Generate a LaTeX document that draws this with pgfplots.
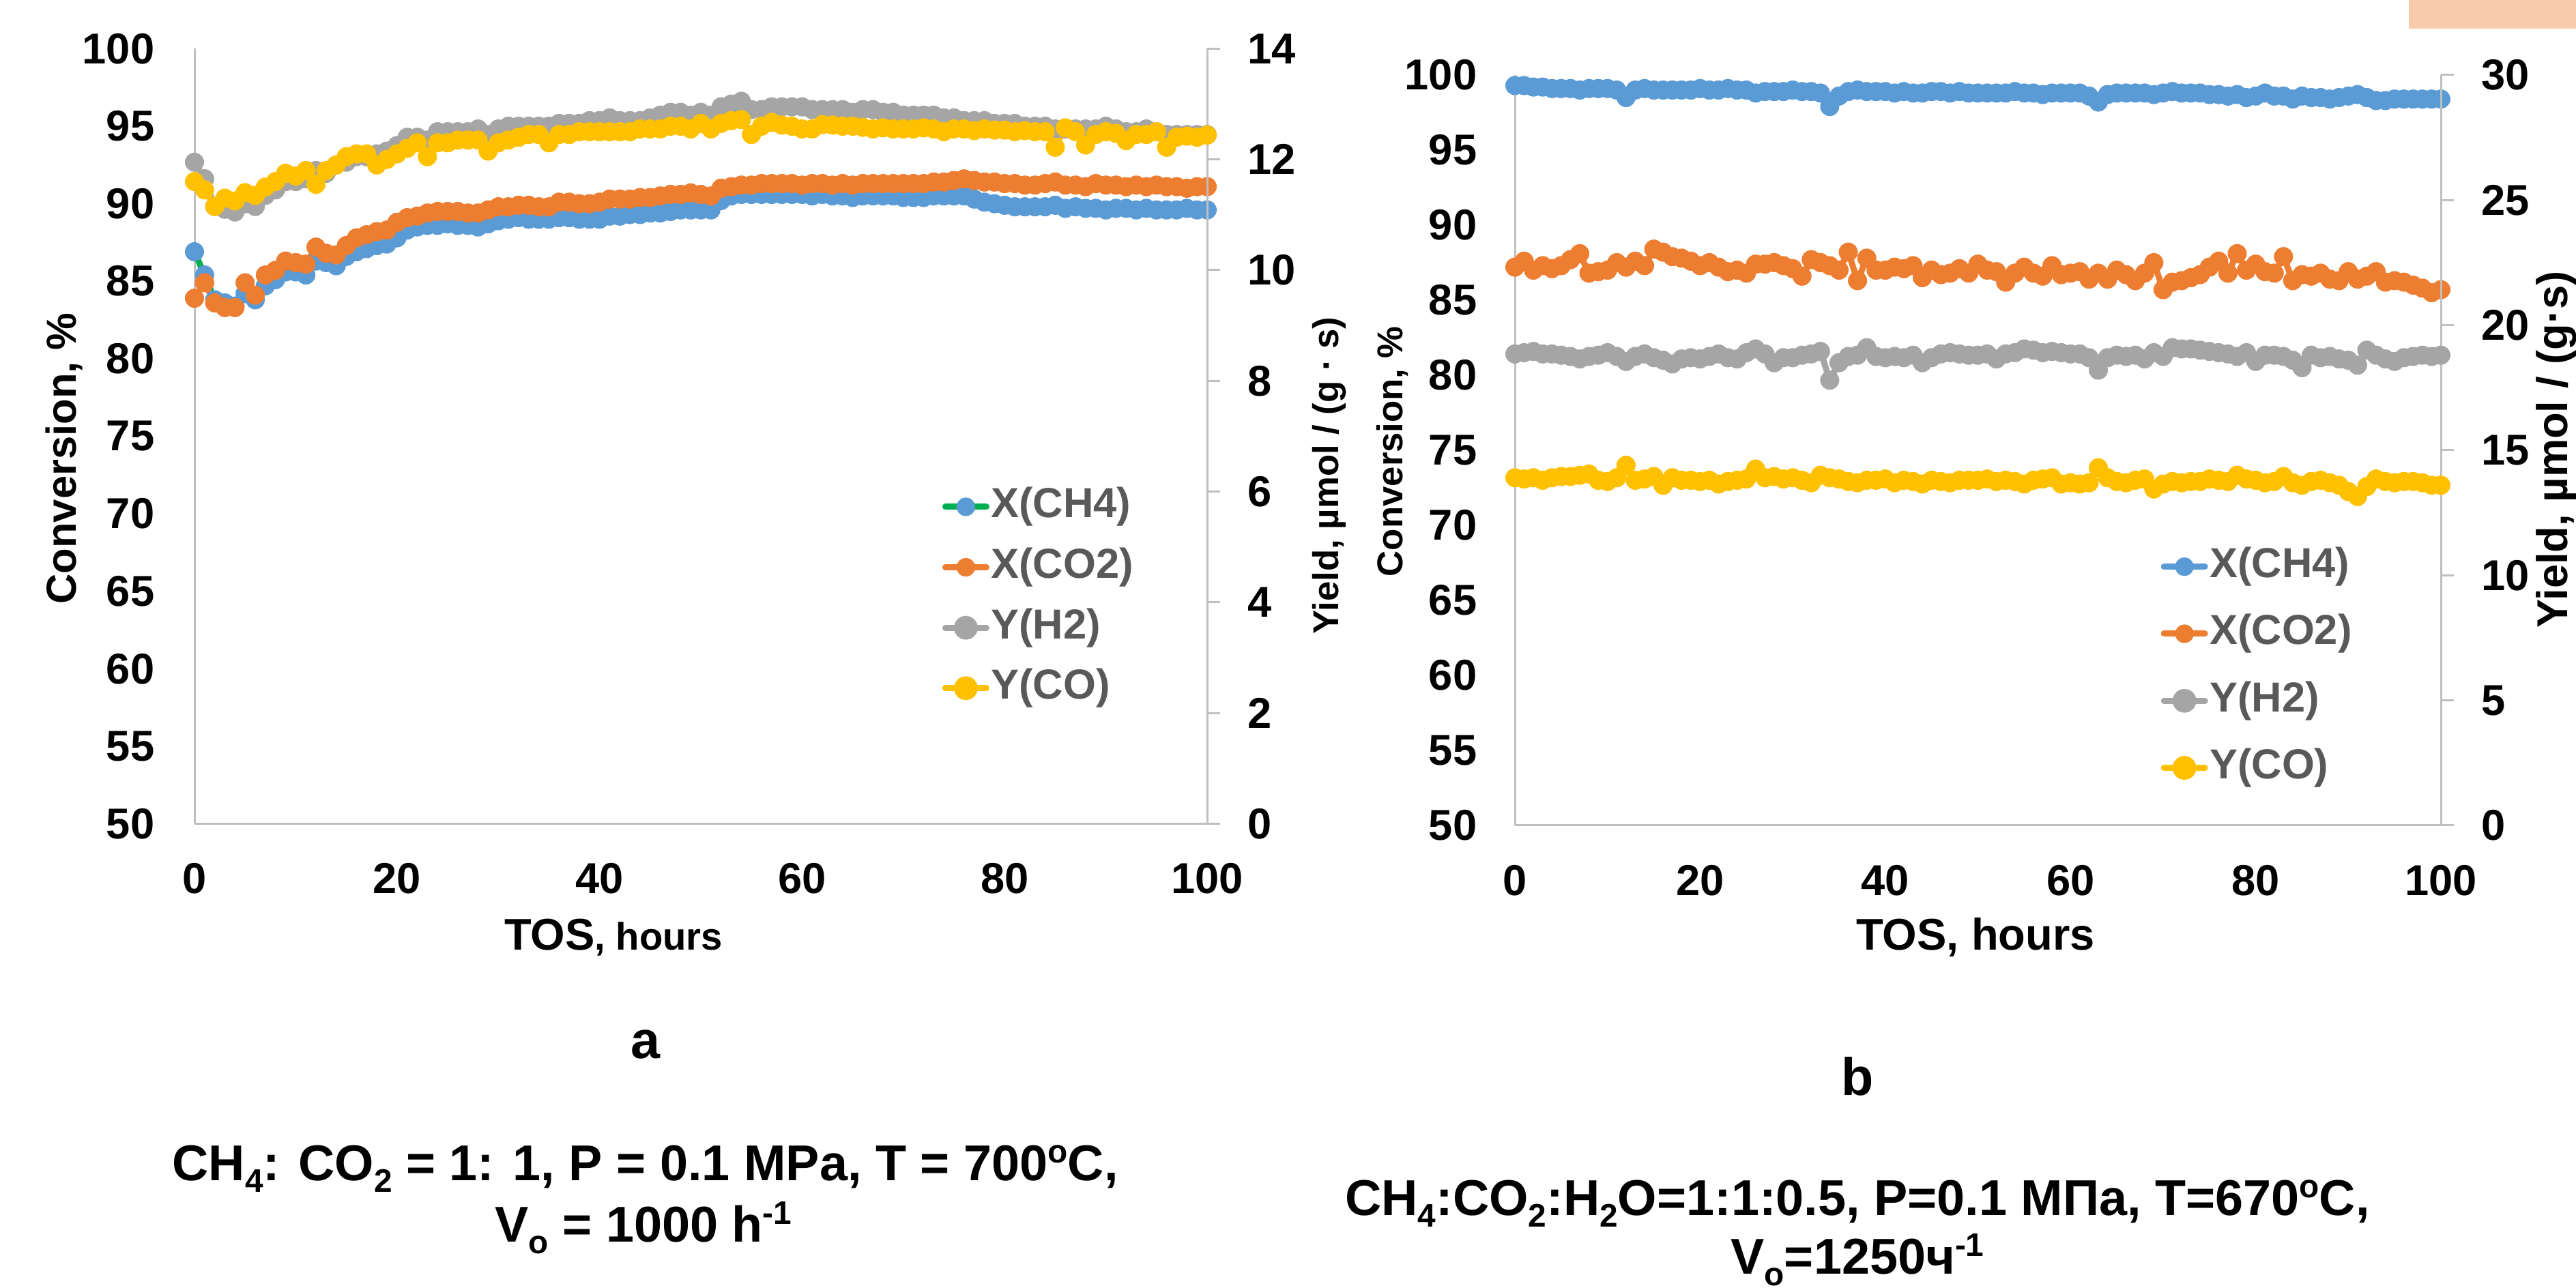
\documentclass[border=0pt]{standalone}
\usepackage{pgfplots}
\usepackage{pgfplotstable}
\usepackage{fontspec}
\setmainfont{Liberation Sans}
\pgfplotsset{compat=1.18}
\definecolor{cblue}{HTML}{5B9BD5}
\definecolor{corange}{HTML}{ED7D31}
\definecolor{cgray}{HTML}{A5A5A5}
\definecolor{cgold}{HTML}{FFC000}
\definecolor{cgreen}{HTML}{00B050}
\definecolor{caxis}{HTML}{BFBFBF}
\definecolor{ctext}{HTML}{595959}
\definecolor{cpeach}{HTML}{F8CBAD}
\newcommand\tlfont{\fontsize{18}{18}\selectfont\bfseries}
\newcommand\sub[1]{\raisebox{-0.23em}{\fontsize{13.6}{13.6}\selectfont #1}}
\newcommand\sups[1]{\raisebox{0.36em}{\fontsize{13.6}{13.6}\selectfont #1}}
\pgfplotsset{
  ser/.style n args={2}{draw=#1, line width=0.9mm, line join=round, mark=*, mark size=1.35mm, mark options={draw=#2, fill=#2, line width=0.1mm}},
  leg/.style n args={2}{legend image code/.code={\draw[#1, line width=0.9mm, line cap=round] (0mm,0mm) -- (6mm,0mm); \fill[#2] (3mm,0mm) circle (1.3mm);}},
  base/.style={scale only axis, anchor=south west, xmin=0, xmax=100, clip=false,
    /pgf/number format/assume math mode=true,
    axis line style={caxis, line width=0.3mm},
    tick label style={font=\tlfont, inner sep=0pt}},
  prim/.style={base, axis x line*=bottom, axis y line*=left, major tick length=0pt, tick style={draw=none},
    xtick={0,20,...,100}, yticklabel style={anchor=east, xshift=-5.8mm}, xticklabel style={anchor=north, yshift=-5.75mm}},
  seco/.style={base, axis x line=none, xtick=\empty, axis y line*=right, tick align=outside, major tick length=1.9mm,
    ytick style={draw=caxis, line width=0.3mm}, yticklabel style={anchor=west, xshift=4.0mm}},
  lg/.style={legend cell align=left, legend style={draw=none, fill=none, inner sep=0pt, outer sep=0pt, anchor=north west,
    font=\fontsize{17.5}{17.5}\selectfont\bfseries, text=ctext, column sep=0.25mm,
    nodes={inner sep=0pt, text height=4.6mm, text depth=1.4mm}}},
}
\pgfplotstableread{
h xch4 xco2 yh2 yco
0 86.9 83.9 11.95 11.6
1 85.4 84.9 11.65 11.45
2 83.8 83.6 11.15 11.15
3 83.6 83.3 11.1 11.3
4 83.4 83.3 11.05 11.25
5 84.2 84.9 11.2 11.4
6 83.8 84.1 11.15 11.35
7 84.7 85.4 11.35 11.5
8 85.1 85.7 11.45 11.6
9 85.6 86.3 11.6 11.75
10 85.6 86.2 11.6 11.7
11 85.4 86.1 11.65 11.8
12 86.3 87.2 11.8 11.55
13 86.2 86.8 11.75 11.8
14 86.0 86.7 11.9 11.9
15 86.6 87.3 11.95 12.05
16 86.9 87.8 12.05 12.1
17 87.1 88.0 12.05 12.1
18 87.3 88.2 12.1 11.9
19 87.4 88.3 12.15 12.0
20 87.8 88.8 12.25 12.1
21 88.3 89.1 12.4 12.2
22 88.5 89.2 12.4 12.3
23 88.6 89.4 12.35 12.05
24 88.6 89.5 12.5 12.3
25 88.7 89.5 12.5 12.3
26 88.6 89.5 12.5 12.35
27 88.6 89.4 12.5 12.35
28 88.5 89.4 12.55 12.35
29 88.7 89.6 12.45 12.15
30 88.9 89.8 12.55 12.3
31 89.0 89.8 12.6 12.35
32 89.1 89.9 12.6 12.4
33 89.0 89.9 12.6 12.45
34 89.0 89.8 12.6 12.45
35 89.0 89.8 12.6 12.3
36 89.1 90.1 12.65 12.45
37 89.1 90.1 12.65 12.45
38 89.0 90.0 12.65 12.5
39 89.0 90.0 12.7 12.5
40 89.0 90.1 12.7 12.5
41 89.2 90.3 12.75 12.5
42 89.2 90.3 12.7 12.5
43 89.3 90.3 12.7 12.5
44 89.3 90.4 12.7 12.55
45 89.4 90.4 12.75 12.55
46 89.4 90.5 12.8 12.55
47 89.5 90.6 12.85 12.6
48 89.6 90.6 12.85 12.6
49 89.6 90.7 12.8 12.55
50 89.6 90.6 12.85 12.65
51 89.6 90.5 12.8 12.55
52 90.2 91.0 12.95 12.65
53 90.5 91.1 13.0 12.7
54 90.6 91.2 13.05 12.72
55 90.6 91.2 12.9 12.45
56 90.6 91.3 12.9 12.6
57 90.6 91.3 12.95 12.67
58 90.6 91.3 12.95 12.62
59 90.6 91.3 12.95 12.6
60 90.6 91.2 12.95 12.55
61 90.5 91.3 12.9 12.55
62 90.6 91.3 12.9 12.63
63 90.5 91.2 12.9 12.62
64 90.5 91.3 12.9 12.6
65 90.4 91.2 12.85 12.6
66 90.5 91.3 12.9 12.58
67 90.5 91.3 12.9 12.55
68 90.5 91.3 12.85 12.57
69 90.5 91.3 12.85 12.55
70 90.4 91.3 12.8 12.55
71 90.4 91.3 12.8 12.55
72 90.4 91.3 12.8 12.57
73 90.5 91.4 12.8 12.55
74 90.5 91.4 12.75 12.5
75 90.5 91.5 12.75 12.55
76 90.5 91.6 12.7 12.55
77 90.3 91.5 12.7 12.52
78 90.1 91.4 12.7 12.55
79 90.0 91.4 12.65 12.53
80 89.9 91.3 12.65 12.53
81 89.8 91.3 12.65 12.5
82 89.8 91.2 12.6 12.52
83 89.8 91.2 12.6 12.5
84 89.8 91.3 12.6 12.5
85 89.9 91.4 12.55 12.22
86 89.7 91.2 12.55 12.57
87 89.8 91.2 12.55 12.5
88 89.7 91.1 12.55 12.26
89 89.7 91.3 12.55 12.45
90 89.6 91.2 12.6 12.5
91 89.7 91.2 12.55 12.47
92 89.7 91.1 12.5 12.34
93 89.6 91.2 12.5 12.45
94 89.7 91.1 12.55 12.45
95 89.6 91.2 12.5 12.5
96 89.6 91.1 12.45 12.22
97 89.6 91.1 12.45 12.4
98 89.7 91.0 12.45 12.42
99 89.6 91.1 12.45 12.4
100 89.6 91.1 12.45 12.44
}\dataA
\pgfplotstableread{
h xch4 xco2 yh2 yco
0 99.3 87.2 18.85 13.9
1 99.3 87.6 18.9 13.85
2 99.2 87.0 18.95 13.9
3 99.2 87.3 18.85 13.8
4 99.1 87.1 18.85 13.9
5 99.1 87.3 18.8 13.95
6 99.1 87.7 18.75 13.95
7 99.0 88.1 18.65 14.0
8 99.1 86.8 18.75 14.05
9 99.1 86.9 18.8 13.8
10 99.1 87.0 18.9 13.75
11 99.0 87.5 18.75 13.9
12 98.5 87.2 18.55 14.4
13 99.0 87.6 18.75 13.8
14 99.1 87.3 18.85 13.85
15 99.0 88.4 18.7 13.95
16 99.0 88.2 18.6 13.6
17 99.0 87.9 18.45 13.9
18 99.0 87.8 18.65 13.8
19 99.0 87.6 18.7 13.8
20 99.1 87.3 18.65 13.75
21 99.0 87.5 18.75 13.8
22 99.0 87.2 18.85 13.65
23 99.1 86.9 18.7 13.75
24 99.0 87.0 18.65 13.8
25 99.0 86.8 18.9 13.85
26 98.8 87.4 19.05 14.25
27 98.9 87.4 18.85 13.9
28 98.9 87.5 18.5 13.95
29 98.9 87.3 18.7 13.85
30 99.0 87.1 18.7 13.9
31 98.9 86.6 18.8 13.8
32 98.9 87.7 18.85 13.7
33 98.8 87.5 18.95 14.0
34 97.9 87.3 17.8 13.9
35 98.6 87.0 18.5 13.85
36 98.9 88.2 18.75 13.75
37 99.0 86.3 18.8 13.7
38 98.9 87.8 19.1 13.8
39 98.9 87.0 18.75 13.8
40 98.9 87.0 18.7 13.85
41 98.8 87.2 18.75 13.7
42 98.9 87.1 18.7 13.8
43 98.8 87.3 18.8 13.75
44 98.8 86.5 18.5 13.65
45 98.9 87.0 18.7 13.8
46 98.9 86.7 18.85 13.75
47 98.8 86.8 18.9 13.7
48 98.9 87.1 18.85 13.8
49 98.8 86.8 18.8 13.8
50 98.8 87.4 18.8 13.8
51 98.8 87.0 18.85 13.85
52 98.8 86.9 18.65 13.75
53 98.8 86.2 18.85 13.8
54 98.9 86.8 18.9 13.75
55 98.8 87.2 19.05 13.65
56 98.8 86.8 19.0 13.8
57 98.7 86.6 18.9 13.85
58 98.8 87.3 18.95 13.9
59 98.8 86.7 18.9 13.65
60 98.8 86.8 18.85 13.7
61 98.8 86.9 18.85 13.65
62 98.6 86.4 18.7 13.7
63 98.2 86.8 18.2 14.3
64 98.7 86.4 18.7 13.9
65 98.8 87.0 18.8 13.75
66 98.8 86.7 18.75 13.7
67 98.8 86.3 18.8 13.8
68 98.8 86.8 18.65 13.85
69 98.7 87.5 18.9 13.45
70 98.8 85.7 18.75 13.65
71 98.9 86.2 19.1 13.75
72 98.8 86.3 19.05 13.7
73 98.8 86.5 19.05 13.75
74 98.8 86.7 19.0 13.75
75 98.7 87.2 18.95 13.85
76 98.7 87.6 18.9 13.8
77 98.6 86.8 18.85 13.75
78 98.7 88.1 18.75 14.0
79 98.5 87.0 18.9 13.85
80 98.6 87.4 18.55 13.8
81 98.8 86.9 18.8 13.7
82 98.6 86.8 18.8 13.75
83 98.6 87.9 18.75 13.95
84 98.4 86.3 18.6 13.7
85 98.6 86.7 18.3 13.6
86 98.5 86.6 18.8 13.75
87 98.5 86.8 18.7 13.8
88 98.4 86.4 18.75 13.7
89 98.5 86.3 18.65 13.6
90 98.6 86.9 18.6 13.35
91 98.7 86.4 18.4 13.15
92 98.5 86.6 19.0 13.55
93 98.3 86.9 18.8 13.85
94 98.3 86.2 18.65 13.75
95 98.4 86.3 18.55 13.7
96 98.4 86.2 18.7 13.75
97 98.4 86.0 18.75 13.75
98 98.4 85.8 18.8 13.7
99 98.4 85.5 18.75 13.6
100 98.4 85.7 18.8 13.6
}\dataB
\begin{document}
\begin{tikzpicture}
\path[use as bounding box] (0mm,0mm) rectangle (377.5mm,188.8mm);
\fill[cpeach] (353mm,184.6mm) rectangle (377.5mm,188.8mm);
% ---------- panel a ----------
\begin{axis}[prim, at={(28.5mm,68.05mm)}, width=148.4mm, height=113.61mm,
  ymin=50, ymax=100, ytick={50,55,...,100}]
\addplot[ser={cgreen}{cblue}] table[x=h, y=xch4] {\dataA};
\addplot[ser={corange}{corange}] table[x=h, y=xco2] {\dataA};
\end{axis}
\begin{axis}[seco, lg, at={(28.5mm,68.05mm)}, width=148.4mm, height=113.61mm,
  ymin=0, ymax=14, ytick={0,2,...,14},
  legend style={at={(0.7385,0.4353)}, row sep=2.86mm}]
\addlegendimage{leg={cgreen}{cblue}}\addlegendentry{X(CH4)}
\addlegendimage{leg={corange}{corange}}\addlegendentry{X(CO2)}
\addplot[ser={cgray}{cgray}, leg={cgray}{cgray}] table[x=h, y=yh2] {\dataA};
\addlegendentry{Y(H2)}
\addplot[ser={cgold}{cgold}, leg={cgold}{cgold}] table[x=h, y=yco] {\dataA};
\addlegendentry{Y(CO)}
\end{axis}
% ---------- panel b ----------
\begin{axis}[prim, at={(222.0mm,67.8mm)}, width=135.7mm, height=110.0mm,
  ymin=50, ymax=100, ytick={50,55,...,100}, yticklabel style={xshift=0.3mm}]
\addplot[ser={cblue}{cblue}] table[x=h, y=xch4] {\dataB};
\addplot[ser={corange}{corange}] table[x=h, y=xco2] {\dataB};
\end{axis}
\begin{axis}[seco, lg, at={(222.0mm,67.8mm)}, width=135.7mm, height=110.0mm,
  ymin=0, ymax=30, ytick={0,5,...,30},
  legend style={at={(0.6976,0.3721)}, row sep=3.83mm}]
\addlegendimage{leg={cblue}{cblue}}\addlegendentry{X(CH4)}
\addlegendimage{leg={corange}{corange}}\addlegendentry{X(CO2)}
\addplot[ser={cgray}{cgray}, leg={cgray}{cgray}] table[x=h, y=yh2] {\dataB};
\addlegendentry{Y(H2)}
\addplot[ser={cgold}{cgold}, leg={cgold}{cgold}] table[x=h, y=yco] {\dataB};
\addlegendentry{Y(CO)}
\end{axis}
% ---------- titles ----------
\node[rotate=90, font=\fontsize{17.5}{17.5}\selectfont\bfseries, inner sep=0pt] at (9.4mm,121.6mm) {Conversion, \%};
\node[rotate=90, font=\fontsize{15}{15}\selectfont\bfseries, inner sep=0pt] at (194.8mm,119.1mm) {Yield, µmol / (g · s)};
\node[rotate=90, font=\fontsize{15}{15}\selectfont\bfseries, inner sep=0pt] at (204.0mm,122.6mm) {Conversion, \%};
\node[rotate=90, font=\fontsize{18}{18}\selectfont\bfseries, inner sep=0pt] at (374.6mm,122.9mm) {Yield, µmol / (g·s)};
\node[anchor=base, inner sep=0pt, font=\fontsize{18.5}{18.5}\selectfont\bfseries] at (89.9mm,49.57mm) {TOS{\fontsize{16}{16}\selectfont, hours}};
\node[anchor=base, inner sep=0pt, font=\fontsize{18.5}{18.5}\selectfont\bfseries] at (289.5mm,49.57mm) {TOS, hours};
\node[anchor=base, inner sep=0pt, font=\fontsize{22}{22}\selectfont\bfseries] at (94.6mm,33.63mm) {a};
\node[anchor=base, inner sep=0pt, font=\fontsize{22}{22}\selectfont\bfseries] at (272.2mm,28.24mm) {b};
\node[anchor=base, inner sep=0pt, font=\fontsize{21}{21}\selectfont\bfseries] at (94.55mm,15.7mm) {CH\sub{4}: CO\sub{2} = 1: 1, P = 0.1 MPa, T = 700\sups{o}C,};
\node[anchor=base, inner sep=0pt, font=\fontsize{21}{21}\selectfont\bfseries] at (94.3mm,6.7mm) {V\sub{o} = 1000 h\sups{-1}};
\node[anchor=base, inner sep=0pt, font=\fontsize{21}{21}\selectfont\bfseries] at (272.2mm,10.6mm) {CH\sub{4}:CO\sub{2}:H\sub{2}O=1:1:0.5, P=0.1 MПa, T=670\sups{o}C,};
\node[anchor=base, inner sep=0pt, font=\fontsize{21}{21}\selectfont\bfseries] at (272.2mm,2.0mm) {V\sub{o}=1250ч\sups{-1}};
\end{tikzpicture}
\end{document}
